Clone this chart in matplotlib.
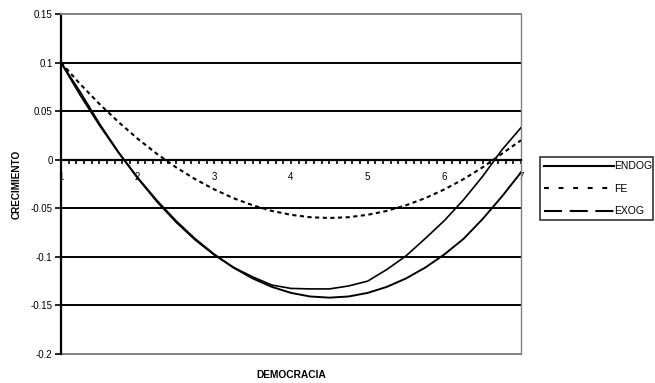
import matplotlib
matplotlib.use("Agg")
import matplotlib.pyplot as plt
from matplotlib.lines import Line2D
import numpy as np

plt.rcParams['font.family'] = ['Liberation Sans', 'DejaVu Sans']
plt.rcParams['lines.scale_dashes'] = False

democracia = [1.0, 1.25, 1.5, 1.75, 2.0, 2.25, 2.5, 2.75, 3.0, 3.25, 3.5, 3.75, 4.0,
              4.25, 4.5, 4.75, 5.0, 5.25, 5.5, 5.75, 6.0, 6.25, 6.5, 6.75, 7.0]
endog = [0.100, 0.0699, 0.0374, 0.0077, -0.0191, -0.0431, -0.0643, -0.0826, -0.0981,
         -0.1108, -0.1206, -0.129, -0.1325, -0.133, -0.133, -0.130, -0.125, -0.113,
         -0.099, -0.0812, -0.0627, -0.0413, -0.0171, 0.0100, 0.033]
fe = [0.100, 0.0779, 0.0575, 0.0388, 0.0216, 0.0061, -0.0078, -0.0200, -0.0306,
      -0.0396, -0.0469, -0.0527, -0.0567, -0.0592, -0.0600, -0.0592, -0.0567, -0.0527,
      -0.0469, -0.0396, -0.0306, -0.0200, -0.0078, 0.0061, 0.0200]
exog = [0.100, 0.0667, 0.0358, 0.0074, -0.0185, -0.0420, -0.0630, -0.0815, -0.0975,
        -0.1111, -0.1222, -0.1309, -0.1371, -0.1408, -0.1420, -0.1408, -0.1371, -0.1309,
        -0.1222, -0.1111, -0.0975, -0.0815, -0.0610, -0.0380, -0.0130]

series_names = ['ENDOG', 'FE', 'EXOG']
yticks = [0.15, 0.1, 0.05, 0, -0.05, -0.1, -0.15, -0.2]
ytick_labels = ['0.15', '0.1', '0.05', '0', '-0.05', '-0.1', '-0.15', '-0.2']
xticks = [1, 2, 3, 4, 5, 6, 7]
gridlines = [0.1, 0.05, -0.05, -0.1, -0.15]

fig = plt.figure(figsize=(6.55, 3.83), dpi=100)
ax = fig.add_axes([61/655, 29/383, 460/655, 340/383])

for g in gridlines:
    ax.axhline(g, color='black', lw=1.4, zorder=1)
ax.axhline(-0.2, color='#808080', lw=1.4, zorder=1, clip_on=False)

ax.plot(democracia, endog, color='black', lw=1.2, zorder=3)
l2, = ax.plot(democracia, fe, color='black', lw=1.5, zorder=3)
l2.set_dashes((3.0, 2.5))
ax.plot(democracia, exog, color='black', lw=1.4, zorder=3)

ax.set_xlim(1, 7)
ax.set_ylim(-0.2, 0.15)

ax.spines['bottom'].set_position(('data', 0))
ax.spines['bottom'].set_linewidth(1.6)
ax.spines['left'].set_linewidth(1.6)
ax.spines['top'].set_color('#808080')
ax.spines['top'].set_linewidth(1.4)
ax.spines['right'].set_color('#808080')
ax.spines['right'].set_linewidth(1.0)

ax.set_yticks(yticks)
ax.set_yticklabels(ytick_labels)
ax.set_xticks(xticks)
ax.set_xticklabels([str(t) for t in xticks])
ax.set_xticks(np.arange(1, 7.001, 0.1), minor=True)
ax.tick_params(axis='x', which='both', direction='out', length=3, width=1.2,
               labelsize=7, pad=6)
ax.tick_params(axis='y', which='major', direction='out', length=4, width=1.2,
               labelsize=7, pad=2)

fig.text(17/655, 1 - 184/383, 'CRECIMIENTO', rotation=90, ha='center', va='center',
         fontsize=7.2, fontweight='bold')
fig.text(291/655, 1 - 375/383, 'DEMOCRACIA', ha='center', va='center',
         fontsize=7.4, fontweight='bold')

h1 = Line2D([], [], color='black', lw=1.5)
h2 = Line2D([], [], color='black', lw=1.5, dashes=(3.5, 7))
h3 = Line2D([], [], color='black', lw=1.5, dashes=(13, 5.5))
leg = fig.legend(handles=[h1, h2, h3], labels=series_names, loc='upper left',
                 bbox_to_anchor=(540/655, (383-222)/383, 113/655, 65/383),
                 mode='expand', borderaxespad=0, fontsize=7.5, handlelength=6.7,
                 handletextpad=0.05, labelspacing=1.2, borderpad=0.4,
                 fancybox=False, frameon=True)
leg.get_frame().set_edgecolor('black')
leg.get_frame().set_linewidth(1.2)

fig.savefig('out.png', dpi=100)
